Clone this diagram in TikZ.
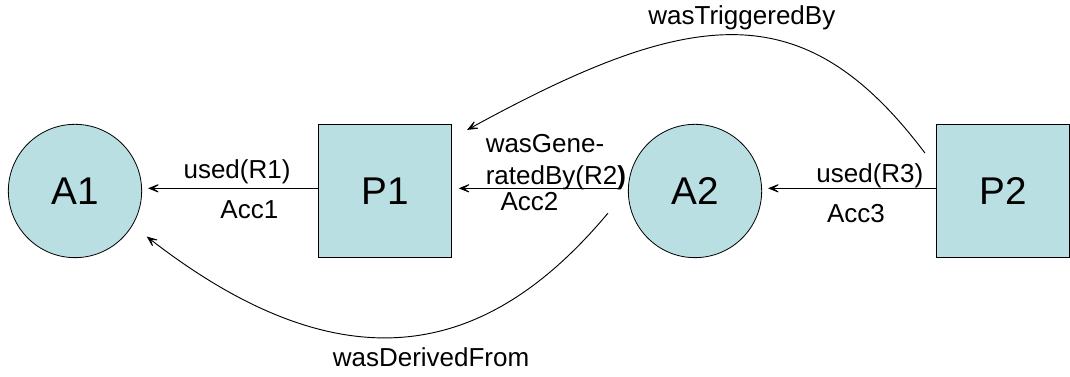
\documentclass[tikz,border=0pt]{standalone}
\usepackage{fontspec}
\setmainfont{Liberation Sans}
\usetikzlibrary{arrows.meta,calc}
\definecolor{nodefill}{HTML}{B9DFE3}

\begin{document}
\begin{tikzpicture}[x=0.75pt, y=0.75pt,
    artifact/.style={draw, line width=0.6pt, circle, fill=nodefill, minimum size=100pt, inner sep=0pt, font=\fontsize{29}{34}\selectfont},
    process/.style={draw, line width=0.6pt, rectangle, fill=nodefill, minimum width=100pt, minimum height=100pt, inner sep=0pt, font=\fontsize{29}{34}\selectfont},
    edgestyle/.style={-{Stealth[length=11pt, width=9pt, inset=7pt]}, line width=0.7pt, font=\fontsize{19.5}{24}\selectfont}
  ]
    \useasboundingbox (0,0) rectangle (1070,377);

    \node[artifact] (A1) at (75,186) {A1};
    \node[process] (P1) at (385,186) {P1};
    \node[artifact] (A2) at (695,186) {A2};
    \node[process] (P2) at (1003,186) {P2};

    \draw[edgestyle, shorten >=4.5pt] ([yshift=2pt]P1.west) -- node[above, pos=0.46, inner sep=3pt]{used(R1)} node[below, pos=0.39, inner sep=9pt]{Acc1} ([yshift=2pt]A1.east);
    \draw[edgestyle, shorten <=7.5pt, shorten >=5pt] ([yshift=2pt]A2.west) -- node[anchor=south, align=left, pos=0.41, inner sep=0pt, yshift=-1.5pt]{wasGene-\\ratedBy(R2\textbf{)}} node[below, pos=0.56, inner sep=3pt]{Acc2} ([yshift=2pt]P1.east);
    \draw[edgestyle, shorten >=4.5pt] ([yshift=2pt]P2.west) -- node[above, pos=0.38, inner sep=0pt]{used(R3)} node[below, pos=0.46, inner sep=12pt]{Acc3} ([yshift=2pt]A2.east);

    \draw[edgestyle] ([shift={(-11,38)}]P2.west) .. controls (805,383) and (695,372) .. node[above, pos=0.5, inner sep=3.5pt, xshift=4pt]{wasTriggeredBy} ([shift={(15,-6)}]P1.north east);
    \draw[edgestyle, shorten >=13.5pt] ([shift={(-22,-6)}]A2.194) .. controls (500,35) and (360,-25) .. node[below, pos=0.5, inner sep=10pt, xshift=12pt]{wasDerivedFrom} (A1.-31);
  \end{tikzpicture}
\end{document}
